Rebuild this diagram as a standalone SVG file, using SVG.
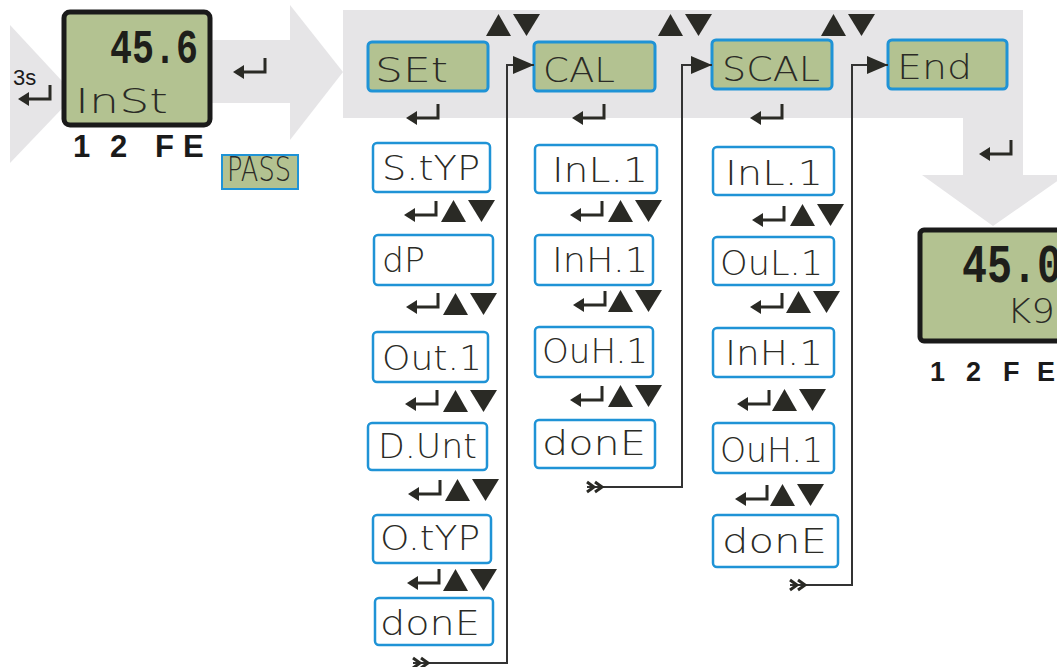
<svg xmlns="http://www.w3.org/2000/svg" width="1057" height="667" viewBox="0 0 1057 667">
<style>
.band{fill:#e6e5e7}
.lcd{font-family:"DejaVu Sans","Liberation Mono",monospace;font-weight:200;fill:#2b2b26;font-size:34px}
.big{font-family:"Liberation Mono","DejaVu Sans Mono",monospace;fill:#1e1e1a;font-weight:bold}
.box{fill:#ffffff;stroke:#1f93d6;stroke-width:2.5}
.gbox{fill:#b3c291;stroke:#1f93d6;stroke-width:3}
.disp{fill:#b3c291;stroke:#1a1a1a;stroke-width:5}
.keys{font-family:"Liberation Sans",Arial,sans-serif;font-weight:bold;fill:#1a1a1a}
.conn{fill:none;stroke:#333333;stroke-width:2}
.tri{fill:#2a2a25}
.ent{fill:none;stroke:#2a2a25;stroke-width:3}
</style>
<defs>
<g id="enter">
<path class="ent" d="M32,0 V14 H9"/>
<polygon class="tri" points="0,14 11,7 11,21"/>
</g>
<g id="ud">
<polygon class="tri" points="0,22 12.5,0 25,22"/>
<polygon class="tri" points="27,0 54,0 40.5,22"/>
</g>
<marker id="ah" markerUnits="userSpaceOnUse" markerWidth="22" markerHeight="20" refX="21" refY="10" orient="auto">
<polygon points="0,1 21,10 0,19" fill="#2a2a25"/>
</marker>
<marker id="chev" markerUnits="userSpaceOnUse" markerWidth="24" markerHeight="14" refX="2" refY="7" orient="auto">
<path d="M2,2 L9,7 L2,12 M10,2 L17,7 L10,12" fill="none" stroke="#2a2a25" stroke-width="3"/>
</marker>
</defs>

<g id="bands">
<polygon class="band" points="10,25 75,95 10,163"/>
<rect class="band" x="200" y="40" width="92" height="63"/>
<polygon class="band" points="290,5 343,72 290,140"/>
<rect class="band" x="343" y="10" width="680" height="108"/>
<rect class="band" x="963" y="117" width="60" height="60"/>
<polygon class="band" points="922,175 1066,175 993,226"/>
</g>

<g id="hint-3s">
<text x="13" y="85" font-family="Liberation Sans, Arial, sans-serif" font-size="22" fill="#1a1a1a">3s</text>
<use href="#enter" x="18" y="85"/>
</g>

<g id="display-top">
<rect class="disp" x="64" y="12" width="146" height="113" rx="6"/>
<text class="big" x="110" y="63" font-size="48" textLength="88" lengthAdjust="spacingAndGlyphs">45.6</text>
<text class="lcd" x="75" y="113" textLength="93" lengthAdjust="spacingAndGlyphs">InSt</text>
<text class="keys" x="73" y="157" font-size="31">1</text>
<text class="keys" x="110" y="157" font-size="31">2</text>
<text class="keys" x="155" y="157" font-size="31">F</text>
<text class="keys" x="183" y="157" font-size="31">E</text>
</g>

<use href="#enter" x="233" y="58"/>

<g id="pass">
<rect x="222" y="155" width="76" height="34" fill="#b3c291" stroke="#1f93d6" stroke-width="2"/>
<text class="lcd" x="227" y="181" font-size="22" textLength="64" lengthAdjust="spacingAndGlyphs">PASS</text>
</g>

<g id="menu-set">
<rect class="gbox" x="368" y="42" width="120" height="49" rx="4"/>
<text class="lcd" x="375" y="82" font-size="38" textLength="73" lengthAdjust="spacingAndGlyphs">SEt</text>
</g>
<g id="menu-cal">
<rect class="gbox" x="534" y="42" width="121" height="49" rx="4"/>
<text class="lcd" x="543" y="82" font-size="38" textLength="72" lengthAdjust="spacingAndGlyphs">CAL</text>
</g>
<g id="menu-scal">
<rect class="gbox" x="712" y="40" width="120" height="49" rx="4"/>
<text class="lcd" x="722" y="81" font-size="38" textLength="98" lengthAdjust="spacingAndGlyphs">SCAL</text>
</g>
<g id="menu-end">
<rect class="gbox" x="888" y="40" width="119" height="49" rx="4"/>
<text class="lcd" x="897" y="79" font-size="38" textLength="75" lengthAdjust="spacingAndGlyphs">End</text>
</g>

<g id="top-keys">
<use href="#ud" x="486" y="14"/>
<use href="#ud" x="658" y="14"/>
<use href="#ud" x="821" y="14"/>
<use href="#enter" x="406" y="104"/>
<use href="#enter" x="572" y="104"/>
<use href="#enter" x="750" y="104"/>
<use href="#enter" x="979" y="140"/>
</g>

<g id="col-set">
<g id="n-styp"><rect class="box" x="373" y="143" width="117" height="49" rx="4"/><text class="lcd" x="382" y="180" textLength="98" lengthAdjust="spacingAndGlyphs">S.tYP</text></g>
<g id="n-dp"><rect class="box" x="374" y="235" width="119" height="50" rx="4"/><text class="lcd" x="382" y="272" textLength="43" lengthAdjust="spacingAndGlyphs">dP</text></g>
<g id="n-out1"><rect class="box" x="373" y="332" width="115" height="50" rx="4"/><text class="lcd" x="382" y="370" textLength="100" lengthAdjust="spacingAndGlyphs">Out.1</text></g>
<g id="n-dunt"><rect class="box" x="368" y="423" width="119" height="47" rx="4"/><text class="lcd" x="378" y="458" textLength="99" lengthAdjust="spacingAndGlyphs">D.Unt</text></g>
<g id="n-otyp"><rect class="box" x="373" y="515" width="118" height="48" rx="4"/><text class="lcd" x="380" y="550" textLength="100" lengthAdjust="spacingAndGlyphs">O.tYP</text></g>
<g id="n-done1"><rect class="box" x="375" y="598" width="118" height="47" rx="4"/><text class="lcd" x="380" y="635" textLength="100" lengthAdjust="spacingAndGlyphs">donE</text></g>
<use href="#enter" x="404" y="201"/><use href="#ud" x="441" y="200"/>
<use href="#enter" x="406" y="293"/><use href="#ud" x="443" y="293"/>
<use href="#enter" x="405" y="390"/><use href="#ud" x="443" y="390"/>
<use href="#enter" x="408" y="480"/><use href="#ud" x="445" y="479"/>
<use href="#enter" x="407" y="569"/><use href="#ud" x="443" y="569"/>
</g>

<g id="col-cal">
<g id="n-inl1a"><rect class="box" x="535" y="145" width="122" height="48" rx="4"/><text class="lcd" x="552" y="182" textLength="96" lengthAdjust="spacingAndGlyphs">InL.1</text></g>
<g id="n-inh1a"><rect class="box" x="535" y="235" width="118" height="50" rx="4"/><text class="lcd" x="552" y="272" textLength="96" lengthAdjust="spacingAndGlyphs">InH.1</text></g>
<g id="n-ouh1a"><rect class="box" x="535" y="327" width="118" height="50" rx="4"/><text class="lcd" x="542" y="363" textLength="106" lengthAdjust="spacingAndGlyphs">OuH.1</text></g>
<g id="n-done2"><rect class="box" x="535" y="420" width="120" height="48" rx="4"/><text class="lcd" x="542" y="455" textLength="104" lengthAdjust="spacingAndGlyphs">donE</text></g>
<use href="#enter" x="570" y="201"/><use href="#ud" x="608" y="200"/>
<use href="#enter" x="573" y="291"/><use href="#ud" x="608" y="290"/>
<use href="#enter" x="570" y="386"/><use href="#ud" x="608" y="385"/>
</g>

<g id="col-scal">
<g id="n-inl1b"><rect class="box" x="713" y="147" width="121" height="48" rx="4"/><text class="lcd" x="725" y="185" textLength="98" lengthAdjust="spacingAndGlyphs">InL.1</text></g>
<g id="n-oul1"><rect class="box" x="713" y="237" width="121" height="48" rx="4"/><text class="lcd" x="720" y="275" textLength="103" lengthAdjust="spacingAndGlyphs">OuL.1</text></g>
<g id="n-inh1b"><rect class="box" x="713" y="328" width="121" height="49" rx="4"/><text class="lcd" x="725" y="365" textLength="98" lengthAdjust="spacingAndGlyphs">InH.1</text></g>
<g id="n-ouh1b"><rect class="box" x="713" y="423" width="121" height="50" rx="4"/><text class="lcd" x="720" y="462" textLength="103" lengthAdjust="spacingAndGlyphs">OuH.1</text></g>
<g id="n-done3"><rect class="box" x="713" y="515" width="125" height="52" rx="4"/><text class="lcd" x="722" y="553" textLength="105" lengthAdjust="spacingAndGlyphs">donE</text></g>
<use href="#enter" x="752" y="206"/><use href="#ud" x="790" y="204"/>
<use href="#enter" x="750" y="293"/><use href="#ud" x="786" y="291"/>
<use href="#enter" x="737" y="390"/><use href="#ud" x="772" y="389"/>
<use href="#enter" x="735" y="485"/><use href="#ud" x="770" y="484"/>
</g>

<g id="display-bottom">
<rect class="disp" x="920" y="230" width="160" height="111" rx="4"/>
<text class="big" x="962" y="282" font-size="54" textLength="100" lengthAdjust="spacingAndGlyphs">45.0</text>
<text class="lcd" x="1007" y="323" font-size="30" textLength="48" lengthAdjust="spacingAndGlyphs">K9</text>
<text class="keys" x="930" y="381" font-size="27">1</text>
<text class="keys" x="966" y="381" font-size="27">2</text>
<text class="keys" x="1003" y="381" font-size="27">F</text>
<text class="keys" x="1037" y="381" font-size="27">E</text>
</g>

<g id="connectors">
<path class="conn" d="M413,663 H507 V65 H534" marker-start="url(#chev)" marker-end="url(#ah)"/>
<path class="conn" d="M587,487 H682 V65 H712" marker-start="url(#chev)" marker-end="url(#ah)"/>
<path class="conn" d="M790,585 H852 V65 H888" marker-start="url(#chev)" marker-end="url(#ah)"/>
</g>
</svg>
